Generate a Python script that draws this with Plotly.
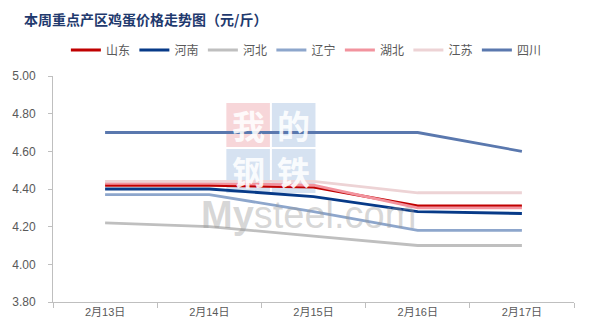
import plotly.graph_objects as go

# Weekly egg prices in key producing regions (yuan / jin)
dates = ["2月13日", "2月14日", "2月15日", "2月16日", "2月17日"]
shandong = [4.42, 4.42, 4.41, 4.31, 4.31]
henan = [4.40, 4.40, 4.36, 4.28, 4.27]
hebei = [4.22, 4.20, 4.15, 4.10, 4.10]
liaoning = [4.37, 4.37, 4.28, 4.18, 4.18]
hubei = [4.43, 4.43, 4.42, 4.30, 4.30]
jiangsu = [4.44, 4.44, 4.44, 4.38, 4.38]
sichuan = [4.70, 4.70, 4.70, 4.70, 4.60]

series = [
    ("山东", shandong, "#C00000"),
    ("河南", henan, "#073A88"),
    ("河北", hebei, "#BFBFBF"),
    ("辽宁", liaoning, "#8DA6CC"),
    ("湖北", hubei, "#F2939E"),
    ("江苏", jiangsu, "#EDD3D5"),
    ("四川", sichuan, "#5A78AE"),
]

FONT = "Liberation Sans, Noto Sans CJK SC, sans-serif"

fig = go.Figure()
for name, vals, color in series:
    fig.add_trace(go.Scatter(
        x=dates, y=vals, name=name, mode="lines",
        line=dict(color=color, width=2.8),
    ))

# plot area in pixels: x 48..574, y 76..302
W, H = 589, 334
L, R, T, B = 48, 574, 76, 302


def px(x):
    return (x - L) / (R - L)


def py(y):
    return (B - y) / (B - T)


shapes = []
annotations = []
# "我的钢铁" watermark tiles
tiles = [
    ("我", 223, 103, "rgba(240,180,186,0.55)"),
    ("的", 269, 103, "rgba(180,202,230,0.55)"),
    ("钢", 223, 149, "rgba(180,202,230,0.55)"),
    ("铁", 269, 149, "rgba(180,202,230,0.55)"),
]
for ch, x0, y0, col in tiles:
    shapes.append(dict(
        type="rect", xref="paper", yref="paper", layer="below",
        x0=px(x0), x1=px(x0 + 44), y0=py(y0 + 44), y1=py(y0),
        fillcolor=col, line=dict(width=0),
    ))
    annotations.append(dict(
        text=f"<b>{ch}</b>", xref="paper", yref="paper",
        x=px(x0 + 22), y=py(y0 + 22), xanchor="center", yanchor="middle",
        showarrow=False, borderpad=0,
        font=dict(family="Noto Sans CJK SC", size=33, color="rgba(255,255,255,0.88)"),
    ))
annotations.append(dict(
    text="<b>My</b>steel.com", xref="paper", yref="paper",
    x=px(196), y=py(215), xanchor="left", yanchor="middle", showarrow=False,
    borderpad=0,
    font=dict(family="Liberation Sans", size=38, color="rgba(150,150,150,0.38)"),
))

fig.update_layout(
    width=W, height=H,
    margin=dict(l=L, r=W - R, t=T, b=H - B),
    paper_bgcolor="white", plot_bgcolor="white",
    font=dict(family=FONT, size=12, color="#595959"),
    title=dict(
        text="<b>本周重点产区鸡蛋价格走势图（元/斤）</b>",
        x=24 / W, xanchor="left", y=1 - 20 / H, yanchor="middle",
        font=dict(family="Noto Sans CJK SC", size=14, color="#1F3A6E"),
    ),
    legend=dict(
        orientation="h", x=px(61), xanchor="left", y=py(50), yanchor="middle",
        font=dict(size=12, color="#595959"), entrywidth=23.5,
        itemwidth=30, bgcolor="rgba(0,0,0,0)",
    ),
    xaxis=dict(
        type="category", range=[-0.5, len(dates) - 0.5],
        showline=True, linecolor="#BFBFBF", linewidth=1,
        ticks="outside", tickson="boundaries", ticklen=5, tickcolor="#BFBFBF",
        showgrid=False, tickfont=dict(size=11, color="#595959"),
    ),
    yaxis=dict(
        range=[3.8, 5.0], dtick=0.2, tickformat=".2f",
        showline=True, linecolor="#BFBFBF", linewidth=1,
        ticks="outside", ticklen=4, tickcolor="#BFBFBF",
        showgrid=False, zeroline=False, ticklabelstandoff=10,
        tickfont=dict(size=12, color="#595959"),
    ),
    shapes=shapes,
    annotations=annotations,
)

fig.write_html("out.html")
